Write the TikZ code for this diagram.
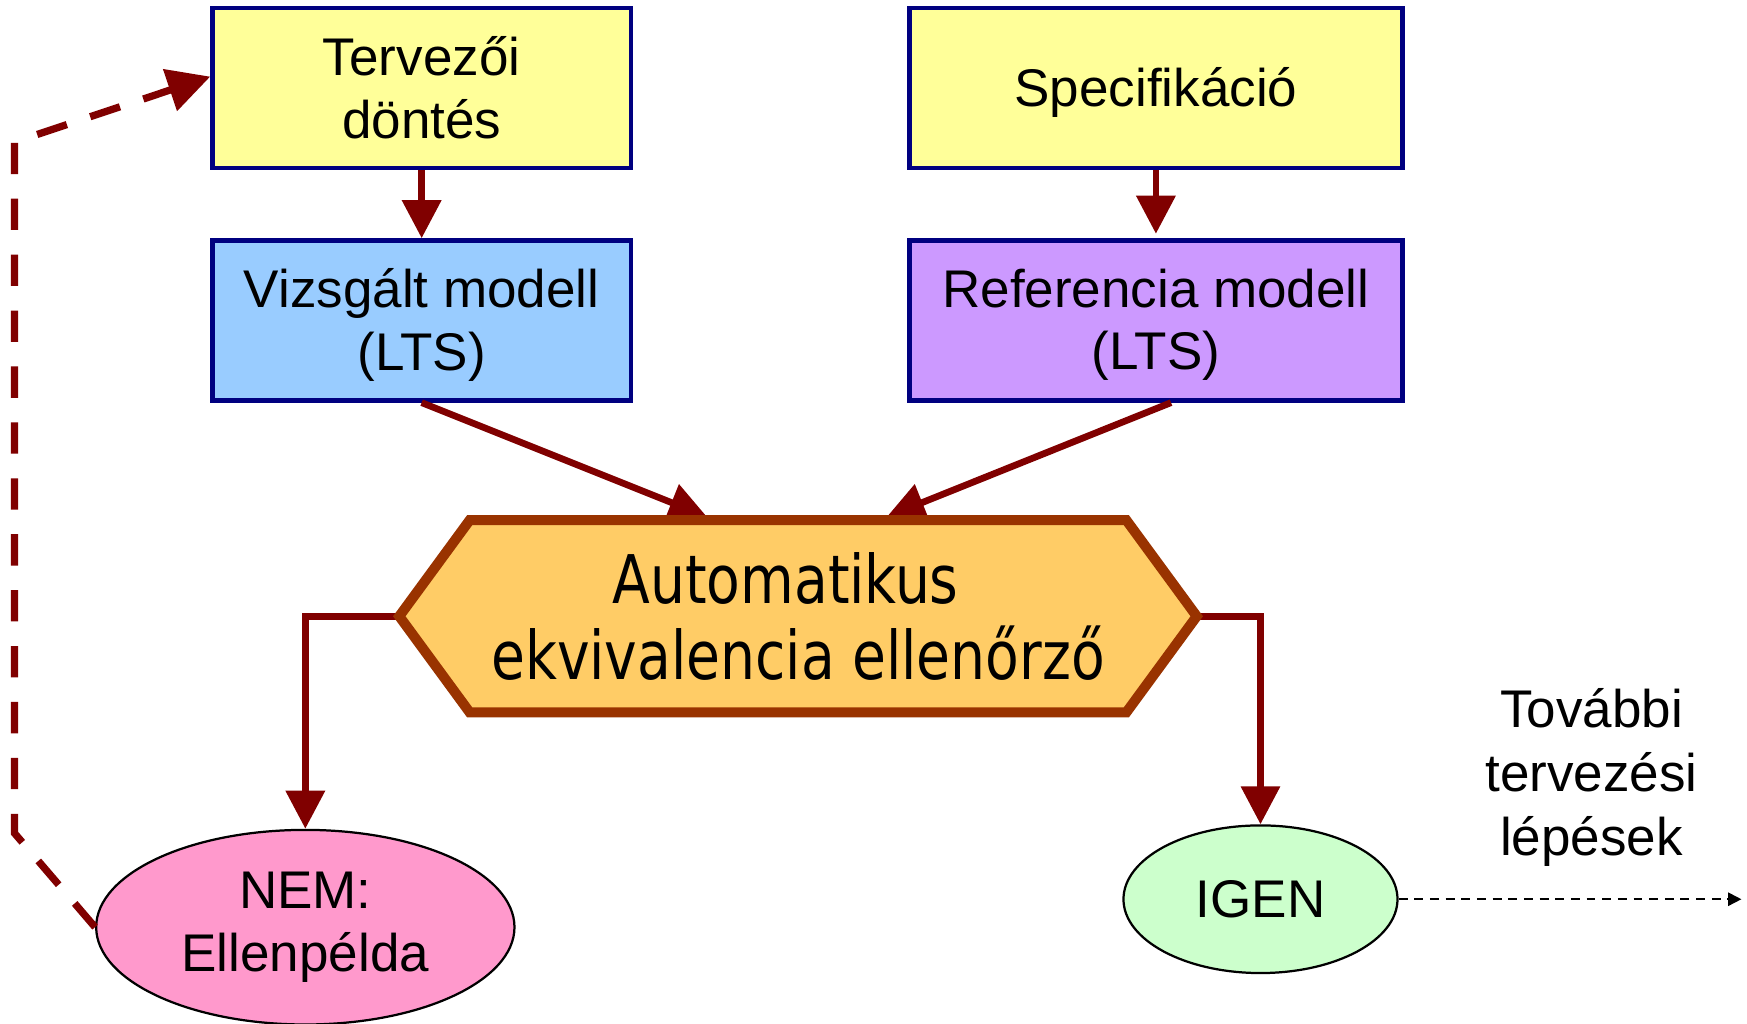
\documentclass[tikz,border=0pt]{standalone}
\usepackage{fontspec}
\setmainfont{Liberation Sans}
\newfontfamily\hexfont[FakeStretch=0.913]{DejaVu Sans Condensed}
\usetikzlibrary{arrows.meta,calc,shapes.geometric}
\definecolor{dred}{HTML}{800000}
\definecolor{navyb}{HTML}{000080}
\definecolor{yelf}{HTML}{FFFF99}
\definecolor{bluef}{HTML}{99CCFF}
\definecolor{purpf}{HTML}{CC99FF}
\definecolor{orgf}{HTML}{FFCC66}
\definecolor{orgd}{HTML}{993300}
\definecolor{pinkf}{HTML}{FF99CC}
\definecolor{greenf}{HTML}{CCFFCC}
\tikzset{
  box/.style={draw=navyb, line width=2pt, align=center, inner sep=0pt,
    minimum height=71.5pt, font=\fontsize{23.7}{28}\selectfont},
  oval/.style={ellipse, draw=black, line width=1pt, align=center, inner sep=0pt,
    font=\fontsize{23.7}{28.5}\selectfont},
  arr/.style={draw=dred, line width=3pt, -{Triangle[width=17pt,length=17pt]}},
  fbarr/.style={draw=dred, line width=3.25pt, dash pattern=on 14pt off 11pt,
    -{Triangle[width=19pt,length=19pt]}},
  thinarr/.style={draw=black, line width=0.8pt, dash pattern=on 4pt off 3pt,
    -{Triangle[width=6pt,length=6pt]}},
}
\begin{document}
\begin{tikzpicture}[x=0.5pt,y=-0.5pt]
\useasboundingbox (0,0) rectangle (1562,914.7);
% boxes
\node[box, fill=yelf, minimum width=187pt] (terv) at (377,78.5) {Tervezői\\döntés};
\node[box, fill=yelf, minimum width=220.5pt] (spec) at (1033.5,78.5) {\raisebox{-2pt}[\height][\depth]{Specifikáció}};
\node[box, fill=bluef, minimum width=187pt] (viz) at (377,286.5) {\raisebox{-2pt}[\height][\depth]{Vizsgált modell}\\\raisebox{-2pt}[\height][\depth]{(LTS)}};
\node[box, fill=purpf, minimum width=220.5pt] (ref) at (1033.5,286.5) {\raisebox{-2pt}[\height][\depth]{Referencia modell}\\\raisebox{-2pt}[\height][\depth]{(LTS)}};
% ellipses
\node[oval, fill=pinkf, minimum width=187pt, minimum height=87pt] (nem) at (273,829) {NEM:\\Ellenpélda};
\node[oval, fill=greenf, minimum width=122.5pt, minimum height=66pt] (igen) at (1127,804) {IGEN};
% hexagon geometry
\coordinate (hc) at (713.5,551);
\coordinate (hnw) at (420,465);
\coordinate (hne) at (1007,465);
\coordinate (hse) at (1007,637);
\coordinate (hsw) at (420,637);
\coordinate (hl) at (357,551);
\coordinate (hr) at (1070,551);
\coordinate (inL) at (632,462);
\coordinate (inR) at (793,462);
% arrows
\draw[arr] (terv.south) -- (viz.north);
\draw[arr] (spec.south) -- ($(ref.north)+(0,-4)$);
\draw[arr] (viz.south) -- (inL);
\draw[arr] (ref.south -| 1047,0) -- (inR);
\draw[arr] (hl) -| (nem.north);
\draw[arr] (hr) -| (igen.north);
% hexagon
\draw[draw=orgd, fill=orgf, line width=4.5pt, line join=miter] (hnw) -- (hne) -- (hr) -- (hse) -- (hsw) -- (hl) -- cycle;
\node[align=center, font=\hexfont\fontsize{30}{34}\selectfont] (chk) at (hc) {Automatikus\hspace*{11pt}\\ekvivalencia ellenőrző};
% feedback
\coordinate (d1) at (13,745);
\coordinate (d2) at (13,127);
\draw[fbarr] (nem.west) -- (d1) -- (d2) -- ($(terv.west)+(0,-10)$);
% further steps
\coordinate (fend) at (1557,804);
\draw[thinarr] (igen.east) -- (fend);
\node[align=center, font=\fontsize{23.7}{28.5}\selectfont] (tov) at (1423,695) {További\\tervezési\\lépések};
\end{tikzpicture}
\end{document}
